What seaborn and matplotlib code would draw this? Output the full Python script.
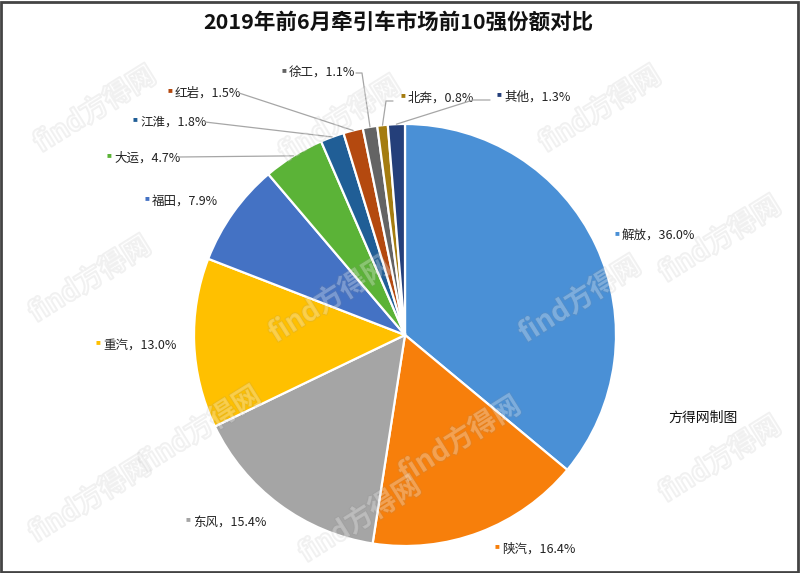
import matplotlib
matplotlib.use("Agg")
import matplotlib.pyplot as plt
import matplotlib.patheffects as pe
import numpy as np
import seaborn as sns

# ---- data ----
brands = ["解放", "陕汽", "东风", "重汽", "福田", "大运", "江淮", "红岩", "徐工", "北奔", "其他"]
shares = [36.0, 16.4, 15.4, 13.0, 7.9, 4.7, 1.8, 1.5, 1.1, 0.8, 1.3]
colors = ["#4A90D6", "#F77F0B", "#A5A5A5", "#FFC000", "#4472C4", "#5BB337",
          "#205E96", "#B4490F", "#646464", "#A47C10", "#243F7A"]
title = "2019年前6月牵引车市场前10强份额对比"

sns.set_theme(style="white")
plt.rcParams["font.family"] = ["Noto Sans CJK SC", "DejaVu Sans"]

W, H = 800, 573
fig = plt.figure(figsize=(8, 5.73), dpi=100)
ax = fig.add_axes([0, 0, 1, 1])

def px(x, y):
    # image pixel coords -> axes data coords
    return x, H - y

cx, cy = px(405, 335)
R = 211

wedges, _ = ax.pie(shares, colors=colors, startangle=90, counterclock=False,
                   center=(cx, cy), radius=R, frame=True,
                   wedgeprops=dict(edgecolor="white", linewidth=1.6))
ax.set_xlim(0, W)
ax.set_ylim(0, H)
ax.set_aspect("equal")
ax.axis("off")

# label placement (left edge of marker, vertical centre) in image pixels
label_pos = {
    "解放": (615, 236), "陕汽": (495, 549), "东风": (186, 522), "重汽": (96, 345),
    "福田": (145, 201), "大运": (107, 158), "江淮": (133, 122), "红岩": (168, 93),
    "徐工": (282, 73), "北奔": (401, 98), "其他": (497, 97),
}
# leader line bends (image pixels); last point is the wedge edge
leader = {
    "大运": [(179, 157)], "江淮": [(205, 122)], "红岩": [(239, 93)],
    "徐工": [(356, 73), (362, 73)], "北奔": [(393, 101), (386, 101)],
    "其他": [(490, 100), (473, 100)],
}

total = sum(shares)
cum = 0.0
for name, v, c in zip(brands, shares, colors):
    mid = np.deg2rad(90 - 360 * (cum + v / 2) / total)
    cum += v
    lx, ly = label_pos[name]
    ax.text(*px(lx, ly - 2), "■", color=c, fontsize=3.5, ha="left", va="center")
    ax.text(*px(lx + 7, ly), f"{name}，{v:.1f}%", color="#222222", fontsize=9,
            ha="left", va="center")
    if name in leader:
        pts = [px(*p) for p in leader[name]]
        pts.append((cx + R * np.cos(mid), cy + R * np.sin(mid)))
        xs, ys = zip(*pts)
        ax.plot(xs, ys, color="#A6A6A6", lw=0.9, zorder=4)

ax.text(*px(398, 23), title, fontsize=15.5, fontweight="bold", color="#111111",
        ha="center", va="center")
ax.text(*px(703, 418), "方得网制图", fontsize=10, color="#111111",
        ha="center", va="center")

# faint watermark tiles, kept inside the frame
marks = [(95, 110), (340, 120), (600, 110), (720, 240), (90, 280), (330, 300),
         (580, 300), (200, 430), (460, 440), (720, 460), (90, 500), (360, 520)]
for x, y in marks:
    t = ax.text(*px(x, y), "find方得网", fontsize=20, fontweight="bold",
                color="white", alpha=0.18, rotation=32, ha="center",
                va="center", zorder=6)
    t.set_path_effects([pe.Stroke(linewidth=1.5, foreground="#8A8A8A", alpha=0.12),
                        pe.Normal()])

# outer frame
fig.patches.append(plt.Rectangle((0.001, 0.002), 0.997, 0.995, transform=fig.transFigure,
                                 fill=False, edgecolor="#444444", linewidth=2))

fig.savefig("out.png", dpi=100)
